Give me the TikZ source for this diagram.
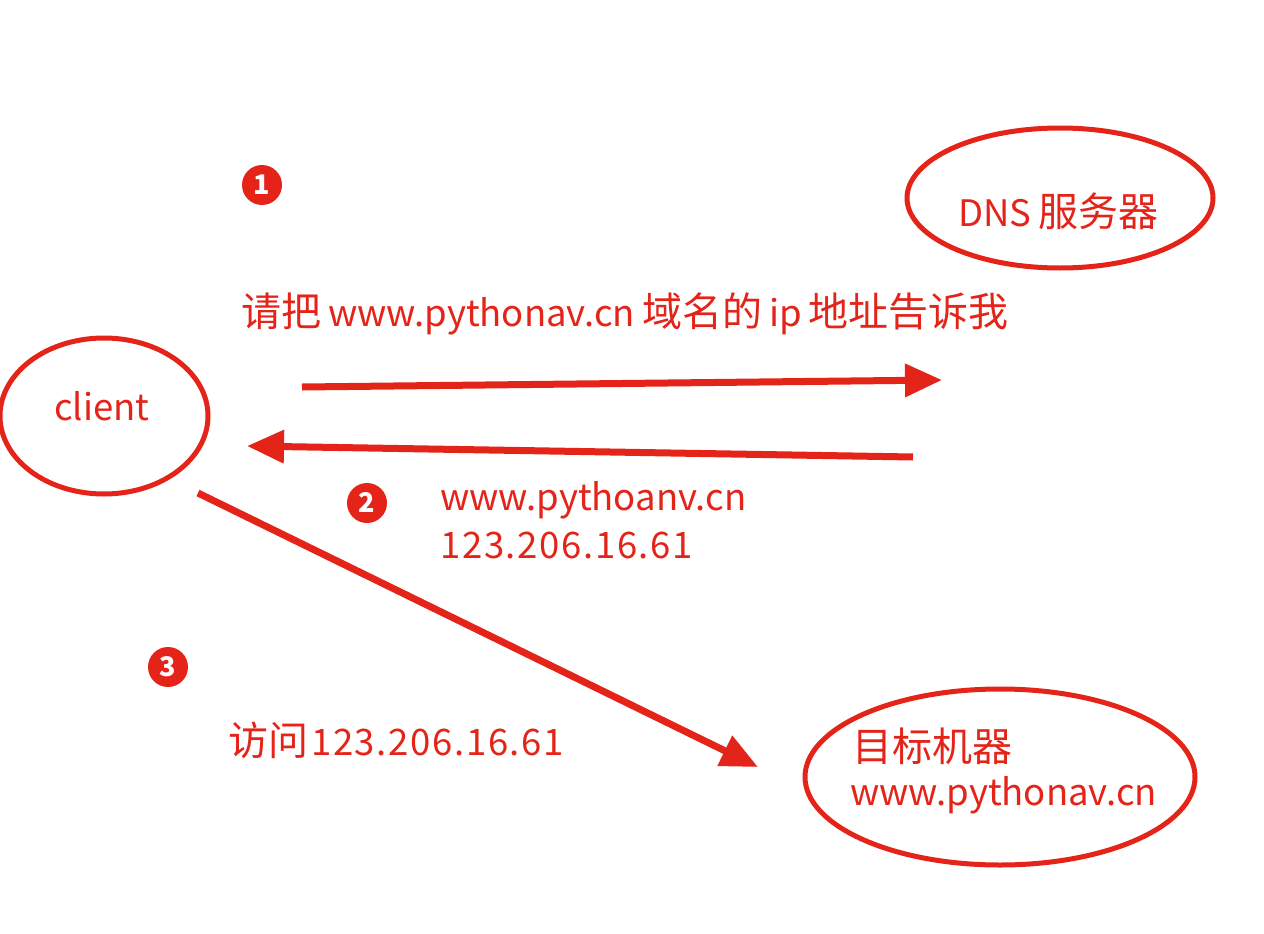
\documentclass[tikz,border=0pt]{standalone}
\usepackage{fontspec}
\setmainfont{Noto Sans CJK SC}
\newfontfamily\ipf[LetterSpace=4.5]{Noto Sans CJK SC}
\usetikzlibrary{arrows.meta,shapes.geometric}
\definecolor{myred}{RGB}{228,35,25}
\newcommand{\Cz}[1]{{\fontsize{40}{44}\selectfont #1}}
\newcommand{\gp}{\hspace{7pt}}
\begin{document}
\begin{tikzpicture}[x=1pt,y=-1pt,
  oval/.style={draw=myred,line width=5pt,ellipse,inner sep=0pt},
  lbl/.style={text=myred,font=\fontsize{36.5}{44}\selectfont,inner sep=0pt},
  arr/.style={draw=myred,line width=7pt,-{Triangle[length=37pt,width=32pt]}},
  num/.style={circle,fill=myred,text=white,minimum size=40pt,inner sep=0pt,font=\fontsize{27}{30}\selectfont\bfseries}]
\useasboundingbox (0,0) rectangle (1264,934);
\node[oval,minimum width=306pt,minimum height=140pt] (dns) at (1060,198) {};
\node[oval,minimum width=208pt,minimum height=156pt] (client) at (104,416) {};
\node[oval,minimum width=390pt,minimum height=176pt] (target) at (1000,777) {};
\node[lbl,anchor=west] (dnst) at (958,211) {DNS\gp\Cz{服务器}};
\node[lbl] (clientt) at (102,406) {client};
\node[lbl,anchor=west] (req) at (241,314) {\Cz{请把}\gp www.pythonav.cn\gp\Cz{域名的}\gp ip\gp\Cz{地址告诉我}};
\node[lbl,anchor=west] (resp1) at (440,500) {www.pythoanv.cn};
\node[lbl,anchor=west] (resp2) at (440,545) {\ipf 123.206.16.61};
\node[lbl,anchor=west] (visit) at (228,740) {\Cz{访问}\hspace{3pt}{\ipf 123.206.16.61}};
\node[lbl,anchor=west] (tgt1) at (852,746) {\Cz{目标机器}};
\node[lbl,anchor=west] (tgt2) at (850,795) {www.pythonav.cn};
\node[num] (n1) at (262,185) {1};
\node[num] (n2) at (367,503) {2};
\node[num] (n3) at (168,667) {3};
\coordinate (a1s) at (302,387);
\coordinate (a1e) at (942,380);
\coordinate (a2s) at (913,457);
\coordinate (a2e) at (247,446);
\coordinate (a3s) at (198,493);
\coordinate (a3e) at (758,767);
\draw[arr] (a1s) -- (a1e);
\draw[arr] (a2s) -- (a2e);
\draw[arr] (a3s) -- (a3e);
\end{tikzpicture}
\end{document}
